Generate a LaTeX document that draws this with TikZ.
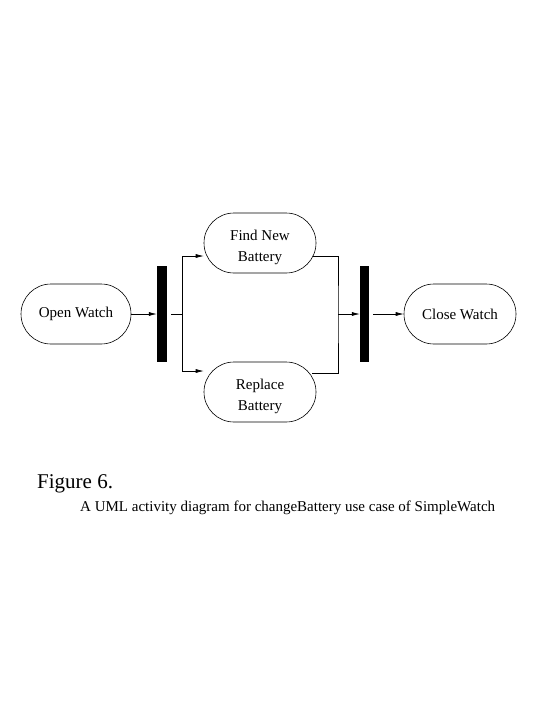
\documentclass[tikz,border=0pt]{standalone}
\usepackage{fontspec}
\setmainfont{Liberation Serif}
\usetikzlibrary{arrows.meta}
\newcommand{\twolines}[2]{\raisebox{-4pt}[\height][\depth]{\begin{tabular}{@{}c@{}}#1\\#2\end{tabular}}}
\begin{document}
\begin{tikzpicture}[x=1pt,y=-1pt,
  act/.style={draw, line width=0.6pt, rounded corners=30pt, minimum height=60pt, inner sep=0pt,
    font=\fontsize{15}{21}\selectfont, align=center},
  bar/.style={fill=black, draw=none, inner sep=0pt, minimum width=10pt, minimum height=96pt},
  arr/.style={line width=0.6pt, -{Latex[length=8pt,width=4pt]}},
  ln/.style={line width=0.6pt}]
\useasboundingbox (0,0) rectangle (540,720);
\node[act, minimum width=110pt] (ow) at (76,314) {Open Watch};
\node[bar] (fork) at (162,314) {};
\node[act, minimum width=112pt] (fnb) at (260,243) {\twolines{Find New}{Battery}};
\node[act, minimum width=112pt] (rb) at (260,392) {\twolines{Replace}{Battery}};
\node[bar, minimum width=9pt] (join) at (364.5,314) {};
\node[act, minimum width=112pt] (cw) at (460,314) {Close Watch};
\coordinate (split) at (182,314);
\coordinate (merge) at (338,314);
\draw[arr] (ow.east) -- (fork.west);
\draw[ln, shorten <=4pt] (fork.east) -- (split);
\draw[arr] (split) |- ([yshift=-13pt]fnb.west);
\draw[arr] (split) |- ([yshift=21pt]rb.west);
\draw[ln] ([shift={(-3pt,-13pt)}]fnb.east) -| (merge) |- ([shift={(-4pt,19pt)}]rb.east);
\draw[arr] (merge) -- (join.west);
\draw[arr, shorten <=4pt] (join.east) -- (cw.west);
\node[anchor=base west, inner sep=0pt, font=\fontsize{21}{24}\selectfont] (fig) at (37,488) {Figure 6.};
\node[anchor=base west, inner sep=0pt, font=\fontsize{15}{18}\selectfont] (cap) at (80,511) {A UML activity diagram for changeBattery use case of SimpleWatch};
\end{tikzpicture}
\end{document}
